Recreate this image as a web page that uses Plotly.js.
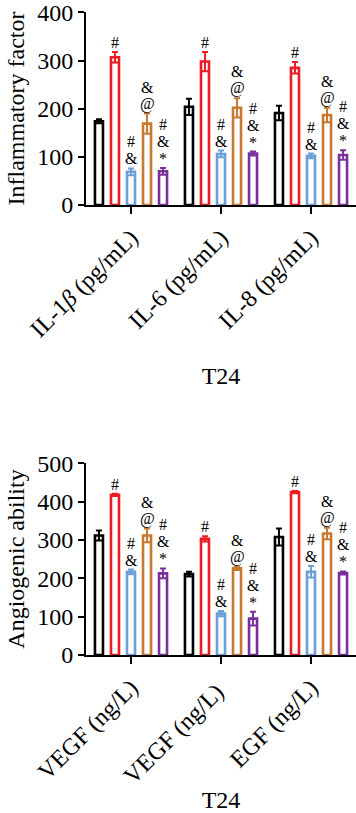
<!DOCTYPE html>
<html>
<head>
<meta charset="utf-8">
<script src="https://cdn.plot.ly/plotly-3.0.1.min.js"></script>
<style>html,body{margin:0;padding:0;background:#fff;}#chart{width:356px;height:813px;}</style>
</head>
<body>
<div id="chart"></div>
<script>
// ---- Data: top panel (Inflammatory factor) ----
const catsTop = ["IL-1<i>\u03b2</i> (pg/mL)", "IL-6 (pg/mL)", "IL-8 (pg/mL)"];
const top_black  = [174, 204, 191];
const top_red    = [307, 298, 285];
const top_blue   = [69, 106, 102];
const top_orange = [169, 202, 187];
const top_purple = [70, 107, 104];
const topErr_black  = [4, 17, 15];
const topErr_red    = [11, 20, 12];
const topErr_blue   = [7, 7, 5];
const topErr_orange = [21, 20, 15];
const topErr_purple = [7, 4, 10];

// ---- Data: bottom panel (Angiogenic ability) ----
const catsBot = ["VEGF (ng/L)", "VEGF (ng/L) ", "EGF (ng/L)"];
const bot_black  = [312, 211, 308];
const bot_red    = [418, 303, 425];
const bot_blue   = [217, 108, 217];
const bot_orange = [312, 226, 317];
const bot_purple = [213, 95, 214];
const botErr_black  = [13, 6, 22];
const botErr_red    = [3, 7, 3];
const botErr_blue   = [6, 7, 15];
const botErr_orange = [18, 4, 15];
const botErr_purple = [13, 18, 4];

// significance marks (lines from top to bottom)
const marks_black  = ["", "", ""];
const marks_red    = ["#", "#", "#"];
const marks_blue   = ["#|&", "#|&", "#|&"];
const marks_orange = ["&|@", "&|@", "&|@"];
const marks_purple = ["#|&|*", "#|&|*", "#|&|*"];

const colors = ["#000000", "#ed1c24", "#6a9fd8", "#c9782f", "#7a2f9a"];
const FONT = "Liberation Serif, Times New Roman, serif";

const topVals = [top_black, top_red, top_blue, top_orange, top_purple];
const topErrs = [topErr_black, topErr_red, topErr_blue, topErr_orange, topErr_purple];
const botVals = [bot_black, bot_red, bot_blue, bot_orange, bot_purple];
const botErrs = [botErr_black, botErr_red, botErr_blue, botErr_orange, botErr_purple];
const marks = [marks_black, marks_red, marks_blue, marks_orange, marks_purple];

const bargap = 0.11;
const traces = [];
const annotations = [];

function addPanel(cats, vals, errs, xa, ya) {
  for (let i = 0; i < 5; i++) {
    traces.push({
      type: "bar", x: cats, y: vals[i], xaxis: xa, yaxis: ya,
      marker: {color: "#ffffff", line: {color: colors[i], width: 2.6}},
      error_y: {type: "data", array: errs[i], visible: true, color: colors[i], thickness: 2, width: 3},
      showlegend: false, hoverinfo: "y"
    });
    const slot = (1 - bargap) / 5;
    for (let g = 0; g < 3; g++) {
      const lines = marks[i][g] ? marks[i][g].split("|") : [];
      const n = lines.length;
      lines.forEach((s, k) => {
        annotations.push({
          xref: xa, yref: ya, x: g + (i - 2) * slot, y: vals[i][g] + errs[i][g],
          text: s, showarrow: false, yanchor: "bottom", xanchor: "center",
          yshift: (n - 1 - k) * 17, borderpad: 0,
          font: {family: FONT, size: 16, color: "#000"}
        });
      });
    }
  }
}
addPanel(catsTop, topVals, topErrs, "x", "y");
addPanel(catsBot, botVals, botErrs, "x2", "y2");

const H = 813;
const axisCommon = {
  showline: true, linecolor: "#000", linewidth: 2, ticks: "outside",
  tickcolor: "#000", tickwidth: 2, showgrid: false, zeroline: false,
  ticklabeloverflow: "allow",
  tickfont: {family: FONT, size: 24, color: "#000"}
};
const layout = {
  width: 356, height: 813,
  margin: {l: 86, r: 0, t: 0, b: 0},
  paper_bgcolor: "#fff", plot_bgcolor: "#fff",
  barmode: "group", bargap: bargap, bargroupgap: 0.5,
  font: {family: FONT, color: "#000"},
  xaxis: Object.assign({}, axisCommon, {
    domain: [0, 1], anchor: "y", tickangle: -45, ticklen: 7, range: [-0.5, 2.5],
    title: {text: "T24", font: {family: FONT, size: 24}, standoff: 26}
  }),
  yaxis: Object.assign({}, axisCommon, {
    domain: [1 - 205 / H, 1 - 12 / H], anchor: "x", range: [0, 401], tickvals: [0, 100, 200, 300, 400], ticklen: 6,
    title: {text: "Inflammatory factor", font: {family: FONT, size: 24}, standoff: 6}
  }),
  xaxis2: Object.assign({}, axisCommon, {
    domain: [0, 1], anchor: "y2", tickangle: -45, ticklen: 7, range: [-0.5, 2.5],
    title: {text: "T24", font: {family: FONT, size: 24}, standoff: 13}
  }),
  yaxis2: Object.assign({}, axisCommon, {
    domain: [1 - 655 / H, 1 - 463 / H], anchor: "x2", range: [0, 501], tickvals: [0, 100, 200, 300, 400, 500], ticklen: 6,
    title: {text: "Angiogenic ability", font: {family: FONT, size: 24}, standoff: 6}
  }),
  annotations: annotations
};
Plotly.newPlot("chart", traces, layout, {displayModeBar: false, staticPlot: true});
</script>
</body>
</html>
